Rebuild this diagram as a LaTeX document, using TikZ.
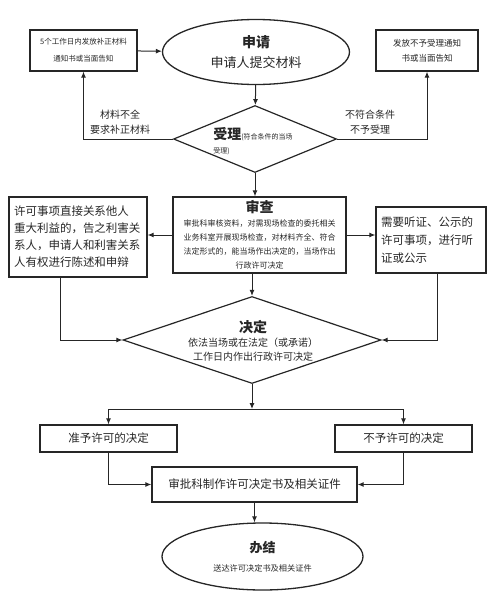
\documentclass[tikz,border=0pt]{standalone}
\usepackage{fontspec}
\setmainfont{Noto Sans CJK SC}
\usetikzlibrary{shapes.geometric,arrows.meta}
\newcommand\fsz[2]{\fontsize{#1}{#2}\selectfont}

\begin{document}
\begin{tikzpicture}[x=1pt,y=-1pt,line width=1pt,color=black!85,
    >={Latex[length=6pt,width=5pt]},
    box/.style={shape=rectangle,draw,line width=1.3pt,inner sep=3pt,align=center},
    oval/.style={shape=ellipse,draw,line width=1.3pt,inner sep=0pt,align=center},
    choice/.style={shape=diamond,draw,line width=1.2pt,inner sep=0pt}]
    \useasboundingbox (0,0) rectangle (500,597);
    \path (83.5,50.5) node (0) [box,minimum width=107pt,minimum height=41pt,font=\fsz{7.5}{17}] {5个工作日内发放补正材料\\通知书或当面告知}
    (256,52) node (1) [oval,minimum width=187pt,minimum height=65pt,font=\fsz{13}{20}] {{\fsz{14}{20}\bfseries 申请}\\申请人提交材料}
    (427,50.5) node (2) [box,minimum width=102pt,minimum height=41pt,font=\fsz{8.5}{15}] {发放不予受理通知\\书或当面告知}
    (255,139) node (3) [choice,minimum width=163pt,minimum height=67pt] {}
    (253,141) node (3t) [align=left,font=\fsz{7}{14}] {{\fsz{14}{14}\bfseries 受理}(符合条件的当场\\受理)}
    (120,122) node (4) [align=center,font=\fsz{10}{15}] {材料不全\\要求补正材料}
    (370,122) node (5) [align=center,font=\fsz{10}{15}] {不符合条件\\不予受理}
    (259.5,235) node (6) [box,inner sep=2pt,minimum width=173pt,minimum height=76pt,font=\fsz{8}{14}] {{\fsz{14}{14}\bfseries 审查}\\审批科审核资料，对需现场检查的委托相关\\业务科室开展现场检查，对材料齐全、符合\\法定形式的，能当场作出决定的，当场作出\\行政许可决定}
    (78,237) node (7) [box,inner xsep=5pt,text width=128pt,align=left,minimum height=80pt,font=\fsz{11.5}{17}] {许可事项直接关系他人\\重大利益的，告之利害关\\系人，申请人和利害关系\\人有权进行陈述和申辩}
    (431,240) node (8) [box,inner xsep=5pt,text width=100pt,align=left,minimum height=66pt,font=\fsz{11.5}{18}] {需要听证、公示的\\许可事项，进行听\\证或公示}
    (252,340) node (9) [choice,minimum width=258pt,minimum height=87pt] {}
    (253,341) node (9t) [align=center,font=\fsz{10}{14}] {{\fsz{14}{14}\bfseries 决定}\\依法当场或在法定（或承诺）\\工作日内作出行政许可决定}
    (108.5,438.5) node (10) [box,minimum width=137pt,minimum height=27pt,font=\fsz{11.5}{14}] {准予许可的决定}
    (403.5,438.5) node (11) [box,minimum width=137pt,minimum height=27pt,font=\fsz{11.5}{14}] {不予许可的决定}
    (254.5,484.5) node (12) [box,minimum width=205pt,minimum height=35pt,font=\fsz{11.5}{14}] {审批科制作许可决定书及相关证件}
    (262.5,556.5) node (13) [oval,minimum width=201pt,minimum height=67pt,font=\fsz{8.2}{19}] {{\fsz{13}{19}\bfseries 办结}\\送达许可决定书及相关证件};
    \coordinate (14) at (252,409);
    \draw [->] (0) -- (1);
    \draw [->] (1) -- (3);
    \draw [->] (3.west) -| (0.south);
    \draw [->] (3.east) -| (2.south);
    \draw [->] (3.south) -- (3.south |- 6.north);
    \draw [->] (6.west) -- (6.west -| 7.east);
    \draw [->] (6.east) -- (6.east -| 8.west);
    \draw [->] (9.north |- 6.south) -- (9.north);
    \draw [->] ([xshift=-18pt]7.south) |- (9.west);
    \draw [->] ([xshift=6pt]8.south) |- (9.east);
    \draw [->] (9.south) -- (14);
    \draw [->] (14) -| (10.north);
    \draw [->] (14) -| (11.north);
    \draw [->] (10.south) |- (12.west);
    \draw [->] (11.south) |- (12.east);
    \draw [->] (12.south) -- (12.south |- 13.north);
\end{tikzpicture}
\end{document}
